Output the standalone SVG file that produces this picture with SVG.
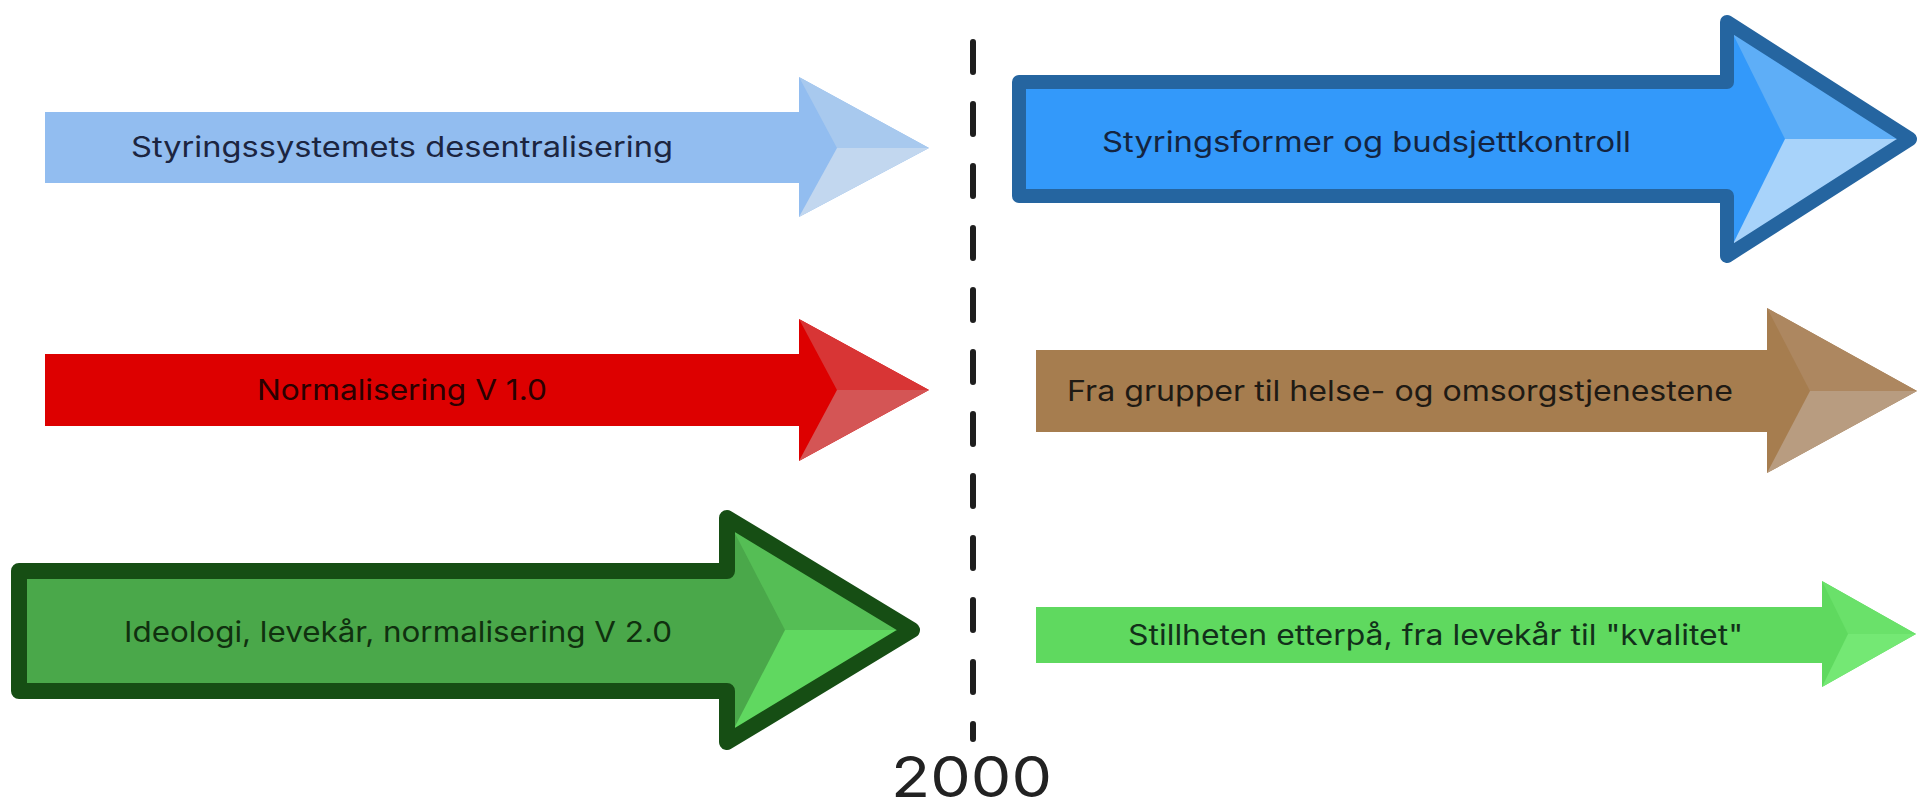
<svg xmlns="http://www.w3.org/2000/svg" width="1919" height="809" viewBox="0 0 1919 809">
<style>
.lbl{font-family:Inter,"Liberation Sans",sans-serif;font-size:28px}
.edge{fill:none;stroke-linejoin:round}
</style>
<rect width="1919" height="809" fill="#ffffff"/>
<g id="timeline">
<line x1="973" y1="42" x2="973" y2="739" stroke="#1e1e1e" stroke-width="6" stroke-dasharray="30 32" stroke-linecap="round"/>
<text x="891" y="797" font-family="Inter,'Liberation Sans',sans-serif" font-size="56" fill="#222222" textLength="161" lengthAdjust="spacingAndGlyphs">2000</text>
</g>
<g id="connectors"></g>
<g id="a1">
<path d="M45,112 H799 V77 L929,148 L799,217 V183 H45 Z" fill="#92bdf0"/>
<path d="M799,77 L837,148 L929,148 Z" fill="#a8c9ee"/>
<path d="M799,217 L837,148 L929,148 Z" fill="#c2d7ef"/>
<text class="lbl" x="131" y="157" fill="#1c2540" textLength="542" lengthAdjust="spacingAndGlyphs">Styringssystemets desentralisering</text>
</g>
<g id="a2">
<path d="M1019,82 H1727 V22 L1910,139 L1727,256 V196 H1019 Z" fill="#3399fa"/>
<path d="M1727,22 L1785,139 L1910,139 Z" fill="#5eaef7"/>
<path d="M1727,256 L1785,139 L1910,139 Z" fill="#a8d3fa"/>
<path class="edge" d="M1019,82 H1727 V22 L1910,139 L1727,256 V196 H1019 Z" stroke="#2565a0" stroke-width="14"/>
<text class="lbl" x="1102" y="152" fill="#14243f" textLength="529" lengthAdjust="spacingAndGlyphs">Styringsformer og budsjettkontroll</text>
</g>
<g id="a3">
<path d="M45,354 H799 V319 L929,390 L799,461 V426 H45 Z" fill="#dd0000"/>
<path d="M799,319 L837,390 L929,390 Z" fill="#d83535"/>
<path d="M799,461 L837,390 L929,390 Z" fill="#d45555"/>
<text class="lbl" x="257" y="400" fill="#2a0000" textLength="290" lengthAdjust="spacingAndGlyphs">Normalisering V 1.0</text>
</g>
<g id="a4">
<path d="M1036,350 H1767 V308 L1917,391 L1767,473 V432 H1036 Z" fill="#a67d4f"/>
<path d="M1767,308 L1810,391 L1917,391 Z" fill="#ad8760"/>
<path d="M1767,473 L1810,391 L1917,391 Z" fill="#b89c80"/>
<text class="lbl" x="1067" y="401" fill="#1f1a14" textLength="666" lengthAdjust="spacingAndGlyphs">Fra grupper til helse- og omsorgstjenestene</text>
</g>
<g id="a5">
<path d="M19,571 H727 V518 L912,630 L727,742 V691 H19 Z" fill="#4aa84a"/>
<path d="M727,518 L785,630 L912,630 Z" fill="#55be55"/>
<path d="M727,742 L785,630 L912,630 Z" fill="#60d860"/>
<path class="edge" d="M19,571 H727 V518 L912,630 L727,742 V691 H19 Z" stroke="#164e14" stroke-width="16"/>
<text class="lbl" x="124" y="642" fill="#10300f" textLength="548" lengthAdjust="spacingAndGlyphs">Ideologi, levekår, normalisering V 2.0</text>
</g>
<g id="a6">
<path d="M1036,607 H1822 V581 L1916,634 L1822,687 V663 H1036 Z" fill="#5fd95f"/>
<path d="M1822,581 L1848,634 L1916,634 Z" fill="#6ae16a"/>
<path d="M1822,687 L1848,634 L1916,634 Z" fill="#74e874"/>
<text class="lbl" x="1128" y="645" fill="#12301a" textLength="615" lengthAdjust="spacingAndGlyphs">Stillheten etterpå, fra levekår til "kvalitet"</text>
</g>
</svg>
